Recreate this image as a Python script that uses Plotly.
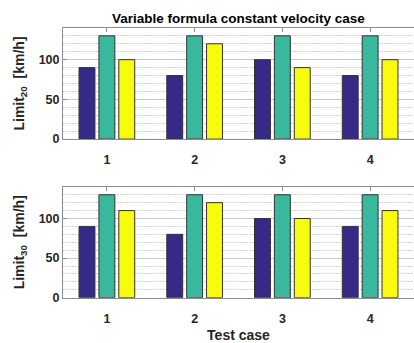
import plotly.graph_objects as go

cases = [1, 2, 3, 4]
lim20_a = [90, 80, 100, 80]
lim20_b = [130, 130, 130, 130]
lim20_c = [100, 120, 90, 100]
lim30_a = [90, 80, 100, 90]
lim30_b = [130, 130, 130, 130]
lim30_c = [110, 120, 100, 110]
colors = ["#352a87", "#38b99e", "#f9fb0e"]
yticks = [0, 50, 100]

fig = go.Figure()
for ya, xa_name, series in [
        ("y", "x", [lim20_a, lim20_b, lim20_c]),
        ("y2", "x2", [lim30_a, lim30_b, lim30_c])]:
    for s, c in zip(series, colors):
        fig.add_trace(go.Bar(x=cases, y=s, xaxis=xa_name, yaxis=ya,
                             marker=dict(color=c, line=dict(color="#333333", width=1)),
                             showlegend=False, offsetgroup=c))

tickfont = dict(family="Liberation Sans, Arial", size=12.5, color="#262626", weight="bold")
axcommon = dict(showline=True, linecolor="#8c8c8c", linewidth=1,
                ticks="inside", ticklen=4, tickcolor="#8c8c8c", tickfont=tickfont)

xax = dict(range=[0.5, 4.5], tickvals=cases, showgrid=False, zeroline=False,
           mirror="ticks", ticklabelstandoff=9, **axcommon)
yax = dict(range=[0, 140], tickvals=yticks, showgrid=True, gridcolor="#c8c8c8", gridwidth=1,
           zeroline=False, mirror=False,
           minor=dict(dtick=10, showgrid=True, gridcolor="#d2d2d2", griddash="2px,1px", gridwidth=1, ticks=""),
           **axcommon)

titlefont = dict(family="Liberation Sans, Arial", size=14, color="#262626")

fig.update_layout(
    width=414, height=343,
    margin=dict(l=63, r=0, t=0, b=0),
    paper_bgcolor="white", plot_bgcolor="white",
    barmode="group", bargap=0.32, bargroupgap=0.2,
    font=dict(family="Liberation Sans, Arial, sans-serif", size=12, color="#262626"),
    xaxis=dict(domain=[0, 1], anchor="y", **xax),
    yaxis=dict(domain=[0.586, 0.917], anchor="x",
               title=dict(text="<b>Limit<sub>20</sub>  [km/h]</b>", standoff=10, font=titlefont), **yax),
    xaxis2=dict(domain=[0, 1], anchor="y2",
                title=dict(text="<b>Test case</b>", standoff=6, font=titlefont),
                **xax),
    yaxis2=dict(domain=[0.114, 0.444], anchor="x2",
                title=dict(text="<b>Limit<sub>30</sub>  [km/h]</b>", standoff=10, font=titlefont), **yax),
    annotations=[dict(text="<b>Variable formula constant velocity case</b>",
                      x=0.5, xref="paper", y=1 - 19 / 343, yref="paper",
                      yanchor="middle", showarrow=False,
                      font=dict(family="Liberation Sans, Arial", size=13.5, color="#000000"))],
)

fig.write_html("out.html")
